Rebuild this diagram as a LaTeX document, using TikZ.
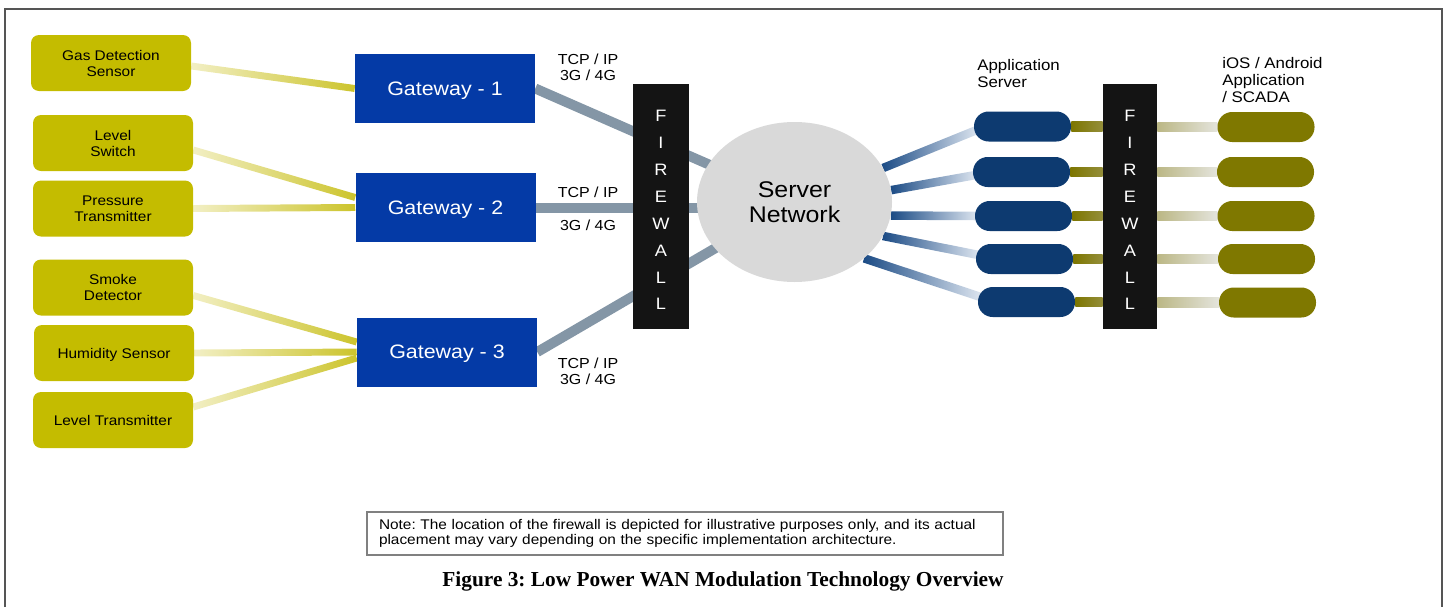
\documentclass[tikz,border=0pt]{standalone}
\usepackage{fontspec}
\setmainfont{Liberation Sans}[FakeStretch=1.1]
\newfontfamily\capfont{Liberation Serif}
\usetikzlibrary{calc,shapes.geometric}
\pgfdeclarelayer{bg}
\pgfsetlayers{bg,main}
\definecolor{sensorc}{RGB}{196,188,0}
\definecolor{sensl}{RGB}{242,239,196}
\definecolor{sensd}{RGB}{204,196,44}
\definecolor{gatec}{RGB}{4,58,166}
\definecolor{fwc}{RGB}{20,20,20}
\definecolor{snc}{RGB}{217,217,217}
\definecolor{steelc}{RGB}{132,150,166}
\definecolor{asc}{RGB}{13,58,112}
\definecolor{apc}{RGB}{127,120,0}
\definecolor{navyd}{RGB}{27,75,133}
\definecolor{navyl}{RGB}{222,230,240}
\definecolor{olived}{RGB}{125,118,0}
\definecolor{olivem}{RGB}{148,142,58}
\definecolor{beiged}{RGB}{187,183,133}
\definecolor{beigel}{RGB}{228,228,220}
\definecolor{framec}{RGB}{85,85,85}
\definecolor{notec}{RGB}{128,128,128}
\newcommand\glink[5]{\shade[left color=#4,right color=#5] ($(#1)!#3!90:(#2)$) -- ($(#2)!#3!-90:(#1)$) -- ($(#2)!#3!90:(#1)$) -- ($(#1)!#3!-90:(#2)$) -- cycle;}
\frenchspacing
\begin{document}
\begin{tikzpicture}[x=0.75pt,y=-0.75pt,
  sensor/.style={rectangle, rounded corners=6pt, fill=sensorc, minimum width=120pt, minimum height=42pt, inner sep=0pt, align=center, font=\fontsize{10.5}{12}\selectfont},
  gate/.style={rectangle, fill=gatec, minimum width=135pt, minimum height=51.75pt, inner sep=0pt, text depth=0pt, text=white, font=\fontsize{14.6}{16}\selectfont},
  fwall/.style={rectangle, fill=fwc, minimum height=183.75pt, inner sep=0pt},
  fwtext/.style={text=white, align=center, inner sep=0pt, font=\fontsize{12.4}{20.2}\selectfont},
  pill/.style={rectangle, rounded corners=11pt, minimum width=72.75pt, minimum height=22.5pt, inner sep=0pt},
  lbl/.style={align=center, inner sep=0pt, font=\fontsize{10.9}{12}\selectfont},
  lbltwo/.style={align=left, anchor=west, inner sep=0pt, font=\fontsize{11.5}{12.75}\selectfont},
  steel/.style={draw=steelc, line width=7.5pt},
]
\useasboundingbox (0,0) rectangle (1445,607);
\draw[framec, line width=1.5pt] (5,607) -- (5,9) -- (1441.5,9) -- (1441.5,607);

% sensors
\node[sensor] (s1) at (111,63) {Gas Detection\\Sensor};
\node[sensor] (s2) at (113,143) {Level\\Switch};
\node[sensor] (s3) at (113,208.5) {Pressure\\Transmitter};
\node[sensor] (s4) at (113,287.5) {Smoke\\Detector};
\node[sensor, text depth=0pt] (s5) at (114,353) {Humidity Sensor};
\node[sensor, text depth=0pt] (s6) at (113,420) {Level Transmitter};

% gateways
\node[gate] (g1) at (445,88.5) {Gateway - 1};
\node[gate] (g2) at (445.5,207.5) {Gateway - 2};
\node[gate] (g3) at (447,352) {Gateway - 3};

% firewalls
\node[fwall, minimum width=42pt] (fw1) at (661,206.5) {};
\node[fwtext] (fw1t) at (661,210) {F\\I\\R\\E\\W\\A\\L\\L};
\node[fwall, minimum width=40.5pt] (fw2) at (1130,206.5) {};
\node[fwtext] (fw2t) at (1130,210) {F\\I\\R\\E\\W\\A\\L\\L};

% server network
\node[ellipse, fill=snc, minimum width=146.25pt, minimum height=120pt, inner sep=0pt, align=center, font=\fontsize{17}{18.75}\selectfont] (sn) at (794.5,202) {Server\\Network};

% application servers
\node[pill, fill=asc] (as1) at (1022.5,126.5) {};
\node[pill, fill=asc] (as2) at (1021.5,172) {};
\node[pill, fill=asc] (as3) at (1023.5,216) {};
\node[pill, fill=asc] (as4) at (1024.5,259) {};
\node[pill, fill=asc] (as5) at (1026.5,302) {};

% apps
\node[pill, fill=apc] (ap1) at (1266,127) {};
\node[pill, fill=apc] (ap2) at (1265.5,172) {};
\node[pill, fill=apc] (ap3) at (1266,216) {};
\node[pill, fill=apc] (ap4) at (1266.5,259) {};
\node[pill, fill=apc] (ap5) at (1267.5,302.5) {};

% labels
\node[lbl] (t1) at (588,67) {TCP / IP\\3G / 4G};
\node[lbl] (t2a) at (588,192) {TCP / IP};
\node[lbl] (t2b) at (588,225) {3G / 4G};
\node[lbl] (t3) at (588,371.5) {TCP / IP\\3G / 4G};
\node[lbltwo] (asl) at (977,73.5) {Application\\Server};
\node[lbltwo] (apl) at (1222,80.5) {iOS / Android\\Application\\/ SCADA};

% note and caption
\node[draw=notec, line width=0.8pt, minimum width=477pt, minimum height=32.25pt, text width=459pt, inner xsep=9pt, inner ysep=0pt, align=left, font=\fontsize{10.5}{11.5}\selectfont] (note) at (685,533.5) {Note: The location of the firewall is depicted for illustrative purposes only, and its actual\\placement may vary depending on the specific implementation architecture.};
\node[inner sep=0pt, font=\capfont\bfseries\fontsize{16}{18}\selectfont] (cap) at (723,581) {Figure 3: Low Power WAN Modulation Technology Overview};

% connectors
\begin{pgfonlayer}{bg}
  \coordinate (l1a) at ($(s1.east)+(0,3)$);
  \coordinate (l2a) at ($(s2.east)+(0,7)$);
  \coordinate (l2b) at ($(g2.west)+(0,-10)$);
  \coordinate (l4a) at ($(s4.east)+(0,8)$);
  \coordinate (l4b) at ($(g3.west)+(0,-10)$);
  \coordinate (l6a) at ($(s6.east)+(0,-13)$);
  \coordinate (l6b) at ($(g3.west)+(0,6)$);
  \glink{l1a}{g1.west}{2.6pt}{sensl}{sensd}
  \glink{l2a}{l2b}{2.6pt}{sensl}{sensd}
  \glink{s3.east}{g2.west}{2.6pt}{sensl}{sensd}
  \glink{l4a}{l4b}{2.6pt}{sensl}{sensd}
  \glink{s5.east}{g3.west}{2.6pt}{sensl}{sensd}
  \glink{l6a}{l6b}{2.6pt}{sensl}{sensd}

  \draw[steel] (g1.east) -- (sn.center);
  \draw[steel] (g2.east) -- (g2.east -| sn.center);
  \draw[steel] (g3.east) -- (sn.center);

  \coordinate (k1) at ($(as1.west)+(3,3.5)$);
  \coordinate (k2) at ($(as2.west)+(3,3)$);
  \coordinate (k3) at ($(as3.west)+(3,0)$);
  \coordinate (k4) at ($(as4.west)+(3,-4)$);
  \coordinate (k5) at ($(as5.west)+(3,-5)$);
  \glink{sn.21}{k1}{3.2pt}{navyd}{navyl}
  \glink{sn.7}{k2}{3.2pt}{navyd}{navyl}
  \glink{sn.-8}{k3}{3.2pt}{navyd}{navyl}
  \glink{sn.-21}{k4}{3.2pt}{navyd}{navyl}
  \glink{sn.-39}{k5}{3.2pt}{navyd}{navyl}

  \foreach \i in {1,...,5}{
    \coordinate (fa\i) at (fw2.west |- as\i.east);
    \coordinate (fb\i) at (fw2.east |- ap\i.west);
    \glink{as\i.east}{fa\i}{3.6pt}{olived}{olivem}
    \glink{fb\i}{ap\i.west}{3.6pt}{beiged}{beigel}
  }
\end{pgfonlayer}
\end{tikzpicture}
\end{document}
